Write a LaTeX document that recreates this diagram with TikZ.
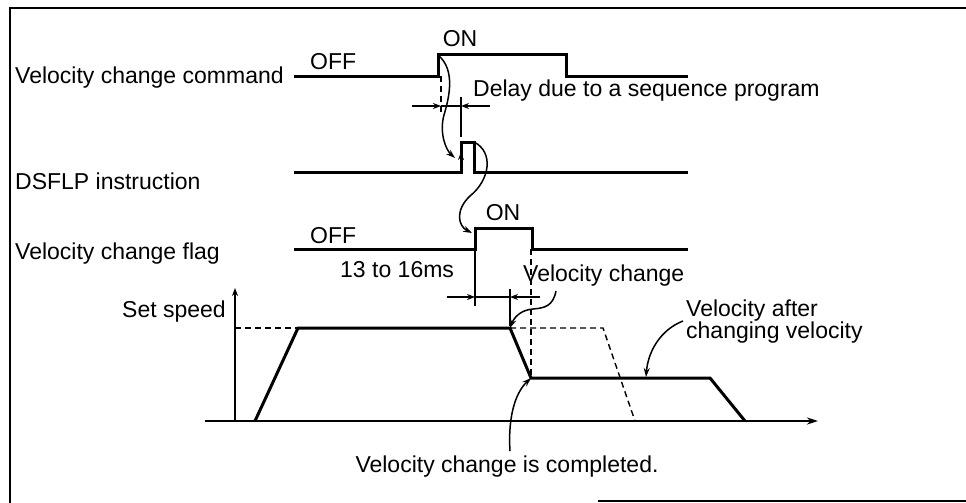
\documentclass[tikz,border=0pt]{standalone}
\usepackage{fontspec}
\setmainfont{Liberation Sans}
\usetikzlibrary{arrows.meta, positioning, calc}

\begin{document}
\begin{tikzpicture}[x=1pt, y=-1pt,
    sig/.style={line width=3pt},
    prof/.style={line width=3pt},
    dim/.style={line width=1.3pt},
    dashline/.style={line width=1.4pt, dash pattern=on 6pt off 4pt},
    dimarrow/.style={line width=1.3pt, -{Stealth[length=8pt, width=6pt]}},
    lead/.style={line width=1.5pt, -{Stealth[length=9pt, width=6pt]}},
    lbl/.style={font=\fontsize{23}{26}\selectfont, inner sep=0pt}]
    \useasboundingbox (0,0) rectangle (966,503);

    % Frame (bottom edge only partly printed)
    \draw[line width=2pt] (10,503) -- (10,8) -- (966,8);
    \draw[line width=2pt] (598,501) -- (966,501);

    % Signal names
    \node[lbl, anchor=base west] (cmdname) at (15,83) {Velocity change command};
    \node[lbl, anchor=base west] (dsfname) at (15,189) {DSFLP instruction};
    \node[lbl, anchor=base west] (flgname) at (15,259) {Velocity change flag};

    % Pulses
    \foreach \n/\lo/\hi/\r/\f in {cmd/76/55/438/566, dsf/172/142/461/474, flg/249/228/475/532} {
      \coordinate (\n-r) at (\r,\hi);
      \coordinate (\n-f) at (\f,\hi);
      \draw[sig] (294,\lo) -- (\r,\lo) -- (\n-r) -- (\n-f) -- (\f,\lo) -- (688,\lo);
    }
    \node[lbl, anchor=base west] (cmdoff) at (310,70) {OFF};
    \node[lbl, anchor=base] (cmdon) at (460,47) {ON};
    \node[lbl, anchor=base west] (flgoff) at (310,243) {OFF};
    \node[lbl, anchor=base] (flgon) at (503,220) {ON};

    % Delay of the sequence program
    \draw[dashline] (441,76) -- (441,112);
    \draw[dim] (461,97) -- (461,137);
    \draw[dimarrow] (412,106) -- (441,106);
    \draw[dim] (441,106) -- (461,106);
    \draw[dimarrow] (490,106) -- (461,106);
    \node[lbl, anchor=base west] (delay) at (473,96) {Delay due to a sequence program};

    \draw[lead] (cmd-r) .. controls (456,70) and (449,98) .. (444,115)
                        .. controls (439,133) and (446,150) .. (455,158);
    \draw[dimarrow] (461,171) -- (461,152);
    \draw[lead] (dsf-f) .. controls (494,152) and (490,180) .. (470,196)
                        .. controls (455,210) and (458,226) .. (472,233);

    % Speed graph
    \draw[dimarrow] (235,421) -- (235,288);
    \draw[line width=2.6pt, -{Stealth[length=11pt, width=7pt]}] (205,421) -- (818,421);
    \node[lbl, anchor=base west] (setspd) at (122,317) {Set speed};
    \coordinate (acc) at (298,328);
    \coordinate (dec) at (510,328);
    \coordinate (low) at (531,378);
    \draw[dashline] (235,328) -- (acc);
    \draw[dashline] (dec) -- (603,328) -- (635,421);
    \draw[prof] (255,421) -- (acc) -- (dec) -- (low) -- (710,378) -- (745,421);

    % 13 to 16ms
    \draw[dim] (475,249) -- (475,306);
    \draw[dim] (510,289) -- (510,326);
    \draw[dashline] (531,249) -- (low);
    \draw[dimarrow] (447,297) -- (475,297);
    \draw[dim] (475,297) -- (510,297);
    \draw[dimarrow] (540,297) -- (510,297);
    \node[lbl, anchor=base west] (ms) at (340,277) {13 to 16ms};

    \node[lbl, anchor=base west] (vchg) at (523,281) {Velocity change};
    \coordinate (vchgfoot) at (556,291);
    \draw[lead] (vchgfoot) .. controls (553,306) and (545,308) .. (533,309)
                           .. controls (520,310) and (514,318) .. (dec);

    \node[lbl, anchor=base west] (after) at (686,316) {Velocity after};
    \node[lbl, anchor=base west] (after2) at (686,338) {changing velocity};
    \coordinate (afterfoot) at (683,321);
    \draw[lead] (afterfoot) .. controls (660,330) and (648,352) .. (646,377);

    \node[lbl, anchor=base] (done) at (507,472) {Velocity change is completed.};
    \draw[lead] ($(done.north)+(3,-4)$) .. controls (508,420) and (514,394) .. (low);
\end{tikzpicture}
\end{document}
